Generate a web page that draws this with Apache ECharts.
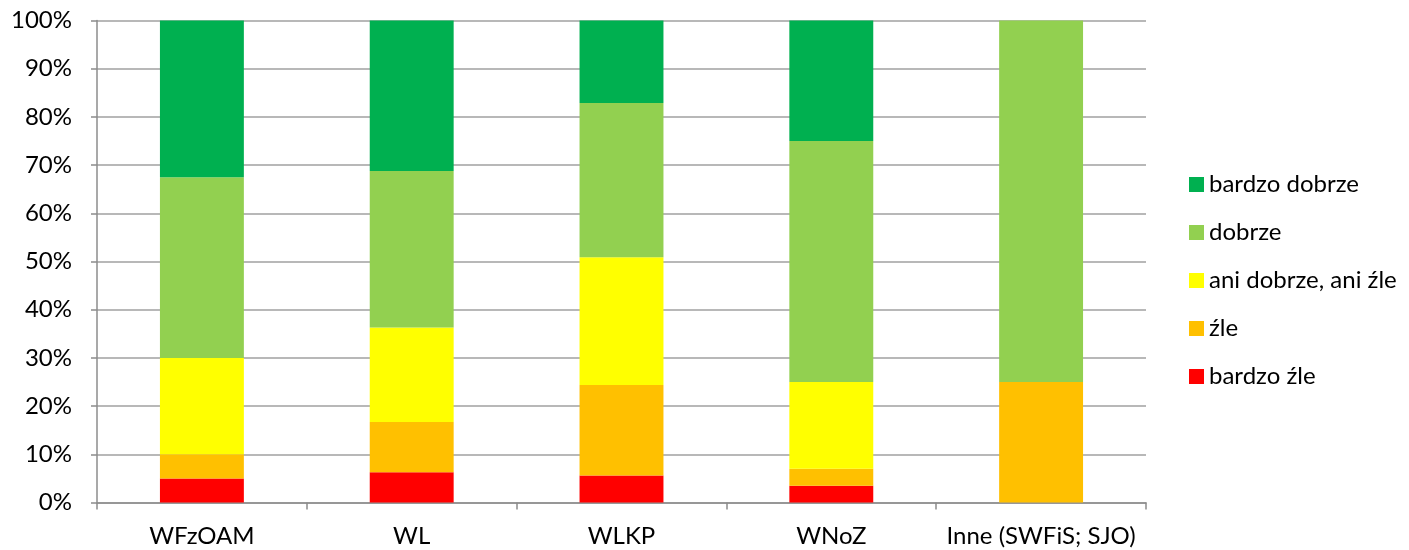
<!DOCTYPE html>
<html>
<head>
<meta charset="utf-8">
<script src="https://cdn.jsdelivr.net/npm/echarts@6/dist/echarts.min.js"></script>
<style>
  html, body { margin: 0; padding: 0; background: #fff; }
  #chart { width: 1409px; height: 550px; }
</style>
</head>
<body>
<div id="chart"></div>
<script>
// Faculties / units on the x axis
const categories = ['WFzOAM', 'WL', 'WLKP', 'WNoZ', 'Inne (SWFiS; SJO)'];

// Share of answers per rating (percent), bottom to top of each stack
const bardzoZle     = [5.0, 6.3, 5.6, 3.5, 0];
const zle           = [5.0, 10.4, 18.8, 3.5, 25];
const aniDobrzeAni  = [20.0, 19.6, 26.5, 18.0, 0];
const dobrze        = [37.5, 32.5, 32.0, 50.0, 75];
const bardzoDobrze  = [32.5, 31.2, 17.1, 25.0, 0];

const seriesNames = ['bardzo źle', 'źle', 'ani dobrze, ani źle', 'dobrze', 'bardzo dobrze'];
const seriesValues = [bardzoZle, zle, aniDobrzeAni, dobrze, bardzoDobrze];
const seriesColors = ['#FF0000', '#FFC000', '#FFFF00', '#92D050', '#00B050'];

const yTicks = { min: 0, max: 100, interval: 10 };

const font = 'Lato, "Open Sans", sans-serif';
const axisGray = '#8c8c8c';
const fontSize = 24;

const chart = echarts.init(document.getElementById('chart'), null, { renderer: 'canvas' });

chart.setOption({
  animation: false,
  backgroundColor: '#ffffff',
  textStyle: { fontFamily: font, color: '#000' },
  grid: { left: 97, right: 263, top: 20.5, bottom: 47.5, containLabel: false },
  legend: {
    orient: 'vertical',
    left: 1189,
    top: 172.5,
    padding: 0,
    itemWidth: 15,
    itemHeight: 15,
    itemGap: 24,
    icon: 'rect',
    data: seriesNames.slice().reverse(),
    textStyle: { fontFamily: font, fontSize: fontSize, color: '#000', lineHeight: 24, padding: [0, 0, 0, 0] },
    itemStyle: { borderWidth: 0 }
  },
  xAxis: {
    type: 'category',
    data: categories,
    boundaryGap: true,
    axisLine: { show: true, lineStyle: { color: axisGray, width: 1.5 } },
    axisTick: { show: true, interval: 0, length: 7, inside: false, lineStyle: { color: axisGray, width: 1.5 } },
    axisLabel: { interval: 0, fontFamily: font, fontSize: fontSize, color: '#000', margin: 22, lineHeight: 24 },
    splitLine: { show: false }
  },
  yAxis: {
    type: 'value',
    min: yTicks.min,
    max: yTicks.max,
    interval: yTicks.interval,
    axisLine: { show: true, lineStyle: { color: axisGray, width: 1.5 } },
    axisTick: { show: true, length: 6, inside: false, lineStyle: { color: axisGray, width: 1.5 } },
    axisLabel: { fontFamily: font, fontSize: fontSize, color: '#000', margin: 25, formatter: '{value}%' },
    splitLine: { show: true, lineStyle: { color: '#a0a0a0', width: 1.5 } }
  },
  series: seriesNames.map((name, i) => ({
    name: name,
    type: 'bar',
    stack: 'total',
    barWidth: '40%',
    data: seriesValues[i],
    itemStyle: { color: seriesColors[i] }
  }))
});
</script>
</body>
</html>
